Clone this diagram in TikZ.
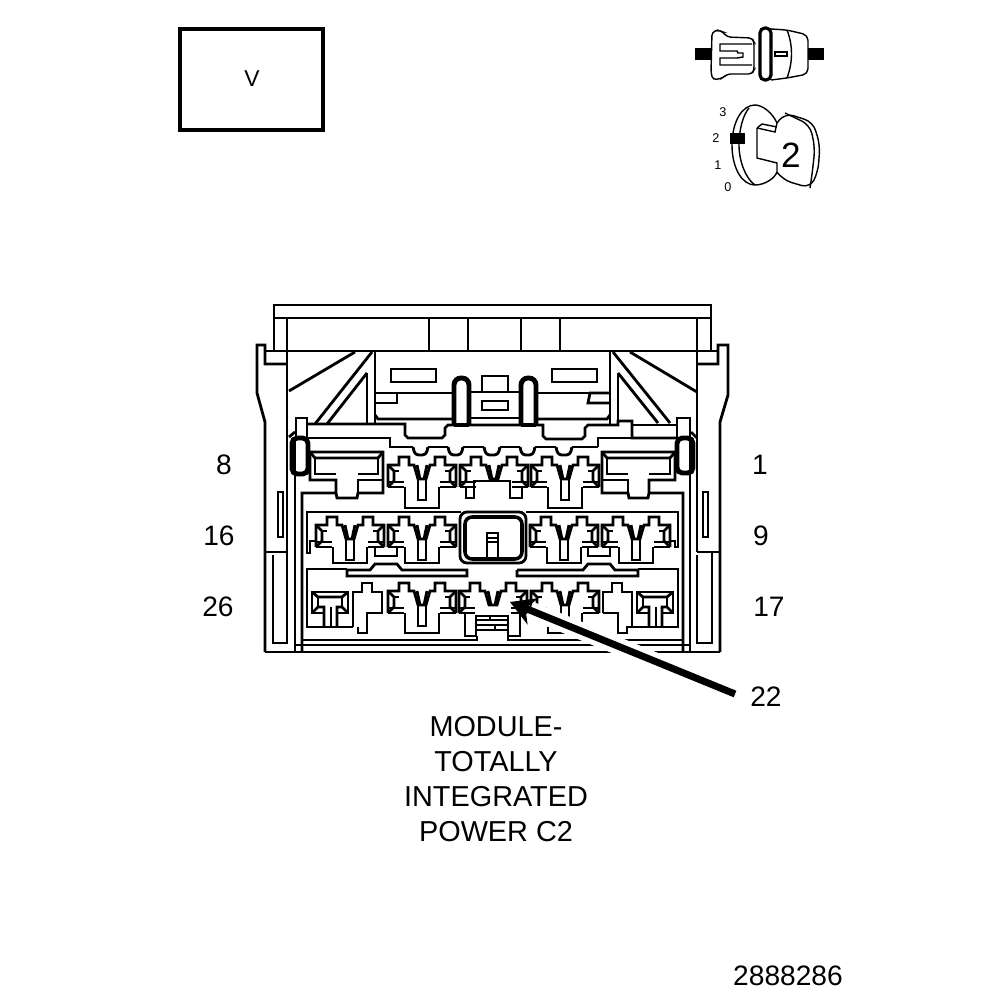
\documentclass[tikz,border=0pt]{standalone}
\usepackage{fontspec}
\setmainfont{Liberation Sans}
\usetikzlibrary{arrows.meta}
\tikzset{
  wire/.style={line width=0.8pt,line join=miter},
  fine/.style={line width=0.4pt},
  heavy/.style={line width=1.4pt,rounded corners=1.5pt},
  pinlabel/.style={font=\fontsize{8}{8}\selectfont,inner sep=0pt},
  titlelabel/.style={font=\fontsize{8.2}{9.9}\selectfont,align=center,inner sep=0pt},
  ticklabel/.style={font=\fontsize{3.6}{4}\selectfont,inner sep=0pt}
}
% two cavities side by side, tops only
\newcommand{\crosstop}[2]{
  \begin{scope}[shift={(#1,#2)}]
    \draw[wire] (-16,30) -- (-16,8) -- (-5,8) -- (-5,0) -- (5,0) -- (5,8) -- (10,8) -- (14,22) -- (22,22) -- (26,8) -- (31,8) -- (31,0) -- (41,0) -- (41,8) -- (52,8) -- (52,30);
    \draw[wire] (-16,30) -- (0,30); \draw[wire] (36,30) -- (52,30);
    \draw[wire] (-16,25) -- (0,25); \draw[wire] (36,25) -- (52,25);
    \draw[wire] (-16,8) -- (-10,14) -- (-10,25); \draw[wire] (-10,24) -- (-16,30);
    \draw[wire] (52,8) -- (46,14) -- (46,25); \draw[wire] (46,24) -- (52,30);
    \draw[fine] (-10,14) -- (-5,14); \draw[fine] (46,14) -- (41,14);
    \draw[wire] (13,8) -- (16,22); \draw[wire] (23,8) -- (20,22);
  \end{scope}
}
\newcommand{\crosspair}[3]{
  \crosstop{#1}{#2}
  \begin{scope}[shift={(#1,#2)}]
    \draw[wire] (1,30) -- (1,#3) -- (35,#3) -- (35,30);
    \draw[wire] (14,22) rectangle (22,43);
  \end{scope}
}
% end cell with bevel and T stem
\newcommand{\sidecell}[1]{
  \begin{scope}[shift={(#1,592)}]
    \draw[wire] (12,21) -- (0,21) -- (0,0) -- (36,0) -- (36,21) -- (25,21);
    \draw[wire] (0,0) -- (6,5) -- (30,5) -- (36,0);
    \draw[wire] (0,21) -- (6,15) -- (12,15) -- (12,35);
    \draw[wire] (36,21) -- (30,15) -- (25,15) -- (25,35);
    \draw[wire] (6,5) -- (6,15); \draw[wire] (30,5) -- (30,15);
    \draw[wire] (19,15) -- (19,35);
  \end{scope}
}
\begin{document}
\begin{tikzpicture}[x=0.01cm,y=-0.01cm]
  \useasboundingbox (0,0) rectangle (1008,1000);

  % view box
  \draw[line width=0.9pt] (180,29) rectangle (323,130);
  \node[font=\fontsize{6.5}{7}\selectfont,inner sep=0pt] (viewmark) at (252,79) {V};

  % connector icon
  \fill (695,48) rectangle (711,60);
  \fill (808,48) rectangle (824,60);
  \draw[fine,rounded corners=1pt] (711,73) -- (712,32) -- (718,30) -- (723,32) -- (727,37) -- (752,38) -- (754,42) -- (754,70) -- (752,74) -- (727,74) -- (723,78) -- (713,80) -- cycle;
  \draw[fine] (752,44) -- (720,44) -- (720,51) -- (737,51) -- (738,53) -- (743,53) -- (743,57) -- (737,58) -- (720,58) -- (720,65) -- (752,65);
  \draw[fine,rounded corners=1.5pt] (771,29) -- (787,30) -- (808,35) -- (808,74) -- (787,78) -- (771,80);
  \draw[fine] (787,30) .. controls (793,45) and (793,62) .. (787,78);
  \draw[fine] (775,52) rectangle (787,56);
  \draw[line width=0.9pt,rounded corners=1.4pt] (760,28) rectangle (771,80);

  % key icon
  \draw[fine] (777,123) .. controls (772,112) and (762,105) .. (755,105) .. controls (742,105) and (732,122) .. (732,145) .. controls (732,168) and (742,185) .. (755,185) .. controls (765,185) and (775,178) .. (777,172);
  \draw[fine] (749,108) .. controls (743,115) and (739,130) .. (739,145) .. controls (739,160) and (745,178) .. (755,185);
  \draw[fine] (757,128) -- (775,132) -- (777,123);
  \draw[fine] (777,172) -- (777,163) -- (757,158) -- (757,128);
  \draw[fine,rounded corners=2.5pt] (777,123) -- (785,113) -- (813,122) -- (820,145) -- (818,172) -- (810,188) -- (783,180) -- (777,172);
  \draw[fine] (757,128) -- (762,124) -- (777,127);
  \draw[fine,rounded corners=2.5pt] (785,113) -- (810,125) -- (815,148) -- (812,175) -- (810,188);
  \fill (730,133) rectangle (745,144);
  \node[font=\fontsize{10}{10}\selectfont,inner sep=0pt] (keynum) at (791,155) {2};
  \node[ticklabel] (tick3) at (723,112) {3};
  \node[ticklabel] (tick2) at (716,138) {2};
  \node[ticklabel] (tick1) at (718,165) {1};
  \node[ticklabel] (tick0) at (728,187) {0};

  % top rail
  \draw[wire] (274,351) -- (274,305) -- (711,305) -- (711,351);
  \draw[wire] (274,318) -- (711,318);
  \draw[wire] (265,351) -- (718,351);
  \foreach \xtick in {429,468,521,560} { \draw[wire] (\xtick,318) -- (\xtick,351); }
  \draw[wire] (287,318) -- (287,552);
  \draw[wire] (697,318) -- (697,552);

  % side latches
  \draw[wire] (265,652) -- (265,422) -- (257,393) -- (257,345) -- (265,345) -- (265,364) -- (287,364);
  \draw[wire] (720,652) -- (720,422) -- (728,395) -- (728,345) -- (718,345) -- (718,364) -- (697,364);
  \draw[wire] (265,552) -- (287,552); \draw[wire] (697,552) -- (720,552);
  \draw[wire] (273,555) -- (273,643) -- (287,643) -- (287,552);
  \draw[wire] (697,555) -- (697,643) -- (712,643) -- (712,552);
  \draw[wire] (278,492) rectangle (283,537);
  \draw[wire] (703,492) rectangle (708,537);

  % gussets
  \draw[wire] (289,391) -- (355,352);
  \draw[wire] (372,352) -- (315,424);
  \draw[wire] (367,373) -- (327,424);
  \draw[wire] (367,373) -- (367,424);
  \draw[wire] (375,351) -- (375,424);
  \draw[wire] (610,351) -- (610,424);
  \draw[wire] (618,373) -- (618,424);
  \draw[wire] (618,373) -- (658,423);
  \draw[wire] (613,352) -- (670,423);
  \draw[wire] (630,352) -- (697,392);

  % centre latch
  \draw[wire] (391,369) rectangle (436,382);
  \draw[wire] (552,369) rectangle (597,382);
  \draw[wire] (375,393) -- (397,393) -- (397,403) -- (375,403);
  \draw[wire] (610,393) -- (590,393) -- (588,403) -- (610,403);
  \draw[wire] (397,393) -- (454,393); \draw[wire] (536,393) -- (590,393);
  \draw[wire] (469,392) -- (521,392);
  \draw[wire] (375,415) -- (378,419) -- (454,419);
  \draw[wire] (536,419) -- (607,419) -- (610,415);
  \draw[wire] (469,418) -- (521,418);
  \draw[wire] (482,392) -- (482,376) -- (508,376) -- (508,392);
  \draw[wire] (482,401) rectangle (508,410);
  \draw[heavy,rounded corners=2pt] (454,425) -- (454,378) -- (469,378) -- (469,425);
  \draw[line width=1.4pt] (454,425) -- (469,425);
  \draw[heavy,rounded corners=2pt] (521,425) -- (521,378) -- (536,378) -- (536,425);
  \draw[line width=1.4pt] (521,425) -- (536,425);

  % step lines under the rail
  \draw[wire] (307,424) -- (405,424) -- (405,435) -- (408,438) -- (442,438) -- (445,435) -- (445,428) -- (448,425) -- (543,425) -- (543,436) -- (546,439) -- (582,439) -- (585,436) -- (585,428) -- (588,425) -- (618,425) -- (618,421) -- (632,421) -- (632,438) -- (677,438);
  \draw[wire] (632,425) -- (677,425);
  \draw[wire] (308,438) -- (390,438) -- (390,447) -- (413,447);
  \draw[wire] (598,447) -- (598,438) -- (632,438);
  \foreach \xa/\xb in {413/428,448/463,484/500,520/535,556/572} {
    \draw[wire,rounded corners=1pt] (\xa,447) -- (\xa+2,455) -- (\xb-2,455) -- (\xb,447);
  }
  \draw[wire] (428,447) -- (448,447); \draw[wire] (463,447) -- (484,447);
  \draw[wire] (500,447) -- (520,447); \draw[wire] (535,447) -- (556,447);
  \draw[wire] (572,447) -- (598,447);

  % pegs
  \draw[wire] (296,438) -- (296,418) -- (307,418) -- (307,438);
  \draw[wire] (677,438) -- (677,418) -- (690,418) -- (690,438);
  \draw[wire] (289,437) -- (295,432); \draw[wire] (691,432) -- (697,438);
  \draw[heavy] (292,438) rectangle (308,474);
  \draw[heavy] (677,438) rectangle (693,473);

  % row 1 frame
  \draw[wire] (302,652) -- (302,493) -- (336,493) -- (337,498) -- (357,498) -- (358,493) -- (383,493) -- (383,452) -- (310,452) -- (310,480) -- (336,480) -- (336,493);
  \draw[wire] (358,493) -- (358,480) -- (383,480);
  \draw[wire] (683,652) -- (683,493) -- (649,493) -- (648,498) -- (629,498) -- (628,493) -- (602,493) -- (602,452) -- (675,452) -- (675,480) -- (649,480) -- (649,493);
  \draw[wire] (628,493) -- (628,480) -- (602,480);
  \draw[wire] (310,452) -- (315,458) -- (378,458) -- (383,452);
  \draw[wire] (315,458) -- (315,474) -- (336,474); \draw[wire] (378,458) -- (378,474) -- (358,474);
  \draw[wire] (675,452) -- (670,458) -- (607,458) -- (602,452);
  \draw[wire] (670,458) -- (670,474) -- (649,474); \draw[wire] (607,458) -- (607,474) -- (628,474);

  % row 1 cavities
  \crosspair{404}{457}{51}
  \crosstop{476}{457}
  \crosspair{547}{457}{51}
  \draw[wire] (466,487) -- (466,498) -- (474,498) -- (474,481) -- (510,481) -- (510,498) -- (522,498) -- (522,487);

  % row 2 frame and key
  \draw[wire] (317,541) -- (310,541) -- (310,553) -- (307,553) -- (307,512) -- (460,512) -- (678,512) -- (678,547) -- (675,547) -- (675,541) -- (669,541);
  \fill[white] (461,511) rectangle (526,565);
  \draw[wire,rounded corners=2pt] (460,512) rectangle (526,563);
  \draw[line width=1pt,rounded corners=2pt] (465,517) rectangle (522,559);
  \draw[wire] (487,559) -- (487,533) -- (498,533) -- (498,559);
  \draw[wire] (487,538) -- (498,538);
  \draw[wire] (487,542) -- (498,542);

  % row 2 cavities
  \foreach \xtick in {332,404,546,618} { \crosspair{\xtick}{517}{46} }
  \draw[wire] (375,547) -- (375,556) -- (397,556) -- (397,547);
  \draw[wire] (588,547) -- (588,556) -- (610,556) -- (610,547);

  % row 3 frame
  \draw[wire] (347,569) -- (307,569) -- (307,627) -- (353,627);
  \draw[wire] (347,569) -- (347,576) -- (467,576) -- (467,570) -- (402,570) -- (397,564) -- (375,564) -- (370,570) -- (347,570);
  \draw[wire] (517,570) -- (517,576) -- (638,576) -- (638,570) -- (615,570) -- (610,564) -- (588,564) -- (583,570) -- (517,570);
  \draw[wire] (638,569) -- (678,569) -- (678,627) -- (632,627);

  % row 3 cavities
  \sidecell{312}
  \sidecell{637}
  \draw[wire] (353,627) -- (353,592) -- (362,592) -- (362,583) -- (372,583) -- (372,592) -- (382,592) -- (382,613) -- (367,613) -- (367,633) -- (358,633) -- (358,627);
  \draw[wire] (603,613) -- (603,592) -- (612,592) -- (612,583) -- (622,583) -- (622,592) -- (632,592) -- (632,627) -- (627,627) -- (627,633) -- (618,633) -- (618,613) -- (603,613);
  \crosspair{404}{583}{50}
  \crosstop{475}{583}
  \crosspair{547}{583}{50}
  \draw[wire] (465,613) -- (465,636) -- (476,636) -- (476,616) -- (508,616) -- (508,636) -- (520,636) -- (520,613);
  % bricks
  \draw[wire] (476,620) -- (508,620);
  \draw[wire] (476,625) -- (508,625);
  \draw[wire] (476,630) -- (508,630);
  \draw[wire] (490,616) -- (490,620); \draw[wire] (495,625) -- (495,630);

  % base lines
  \draw[wire] (302,640) -- (477,640) -- (477,636);
  \draw[wire] (508,636) -- (508,640) -- (683,640);
  \draw[wire] (295,645) -- (690,645);
  \draw[wire] (295,438) -- (295,652);
  \draw[wire] (690,438) -- (690,652);
  \draw[wire] (265,652) -- (720,652);

  % pin labels
  \node[pinlabel] (pin8) at (224,465) {8};
  \node[pinlabel] (pin16) at (219,536) {16};
  \node[pinlabel] (pin26) at (218,607) {26};
  \node[pinlabel] (pin1) at (760,465) {1};
  \node[pinlabel] (pin9) at (761,536) {9};
  \node[pinlabel] (pin17) at (769,607) {17};
  \node[pinlabel] (pin22) at (766,697) {22};

  % leader to pin 22
  \coordinate (tip22) at (510,602);
  \coordinate (tail22) at (735,694);
  \draw[white,line width=5pt] (tail22) -- (530,610);
  \draw[line width=2pt,-{Stealth[length=7pt,width=8pt]}] (tail22) -- (tip22);

  % caption
  \node[titlelabel] (caption) at (496,779) {MODULE-\\TOTALLY\\INTEGRATED\\POWER C2};
  \node[pinlabel] (docnum) at (788,976) {2888286};
\end{tikzpicture}
\end{document}
